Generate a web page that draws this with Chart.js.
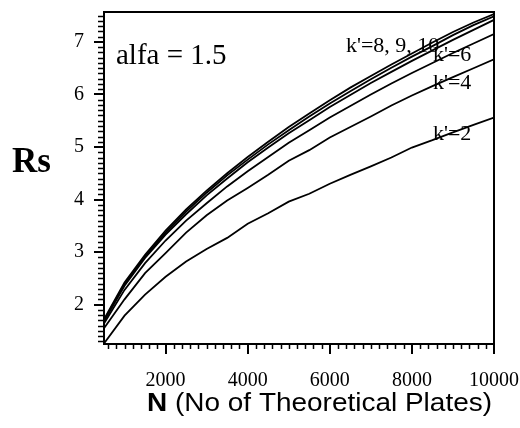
<!DOCTYPE html>
<html>
<head>
<meta charset="utf-8">
<script src="https://cdn.jsdelivr.net/npm/chart.js@4/dist/chart.umd.min.js"></script>
<style>
  html, body { margin: 0; padding: 0; background: #fff; }
  #wrap { width: 520px; height: 428px; }
</style>
</head>
<body>
<div id="wrap"><canvas id="chartCanvas" width="520" height="428"></canvas></div>
<script>
// number of theoretical plates (x) for every sampled point
const nPlates = [500, 1000, 1500, 2000, 2500, 3000, 3500, 4000, 4500, 5000,
                 5500, 6000, 6500, 7000, 7500, 8000, 8500, 9000, 9500, 10000];

// resolution Rs, one array per k'
const rsK2  = [1.26, 1.79, 2.19, 2.53, 2.82, 3.06, 3.27, 3.54, 3.74, 3.96, 4.11, 4.30, 4.47, 4.63, 4.80, 4.99, 5.13, 5.28, 5.42, 5.56];
const rsK4  = [1.55, 2.10, 2.60, 2.98, 3.37, 3.70, 3.98, 4.22, 4.47, 4.74, 4.94, 5.18, 5.38, 5.58, 5.79, 5.98, 6.16, 6.33, 6.50, 6.67];
const rsK6  = [1.64, 2.28, 2.79, 3.22, 3.60, 3.93, 4.25, 4.54, 4.81, 5.08, 5.32, 5.56, 5.78, 6.00, 6.21, 6.41, 6.60, 6.79, 6.97, 7.15];
const rsK8  = [1.68, 2.36, 2.89, 3.33, 3.72, 4.08, 4.40, 4.71, 4.99, 5.26, 5.51, 5.76, 5.99, 6.22, 6.43, 6.64, 6.84, 7.04, 7.23, 7.42];
const rsK9  = [1.70, 2.39, 2.92, 3.37, 3.77, 4.13, 4.46, 4.76, 5.05, 5.32, 5.58, 5.83, 6.06, 6.29, 6.51, 6.72, 6.92, 7.13, 7.32, 7.49];
const rsK10 = [1.72, 2.42, 2.95, 3.41, 3.81, 4.17, 4.50, 4.81, 5.10, 5.38, 5.64, 5.89, 6.13, 6.35, 6.57, 6.78, 6.99, 7.19, 7.37, 7.53];

const seriesNames = ["k'=2", "k'=4", "k'=6", "k'=8", "k'=9", "k'=10"];
const seriesValues = [rsK2, rsK4, rsK6, rsK8, rsK9, rsK10];

const xTickValues = [2000, 4000, 6000, 8000, 10000];
const yTickValues = [2, 3, 4, 5, 6, 7];

const xTitleBold = 'N';
const xTitleRest = ' (No of Theoretical Plates)';
const yTitle = 'Rs';
const alfaText = 'alfa = 1.5';

const SERIF = '"Liberation Serif", "Times New Roman", serif';
const SANS = '"Liberation Sans", Arial, sans-serif';

// minor ticks, frame and all free text
const decorations = {
    id: 'decorations',
    afterDraw(chart) {
        const { ctx, chartArea: a, scales } = chart;
        const x = scales.x, y = scales.y;
        ctx.save();
        ctx.strokeStyle = '#000';

        // top and right frame
        ctx.lineWidth = 2;
        ctx.beginPath();
        ctx.moveTo(a.left, a.top);
        ctx.lineTo(a.right, a.top);
        ctx.lineTo(a.right, a.bottom);
        ctx.stroke();

        // minor ticks
        ctx.lineWidth = 1.5;
        ctx.beginPath();
        for (let v = 600; v < x.max; v += 200) {
            if (v % 2000 === 0) continue;
            const px = Math.round(x.getPixelForValue(v)) + 0.5;
            ctx.moveTo(px, a.bottom);
            ctx.lineTo(px, a.bottom + 5);
        }
        for (let i = 13; i / 10 < y.max; i++) {
            if (i % 10 === 0) continue;
            const py = Math.round(y.getPixelForValue(i / 10)) + 0.5;
            ctx.moveTo(a.left, py);
            ctx.lineTo(a.left - 6, py);
        }
        ctx.stroke();

        ctx.fillStyle = '#000';
        ctx.textBaseline = 'alphabetic';
        ctx.textAlign = 'left';

        // y title, horizontal
        ctx.font = 'bold 35px ' + SERIF;
        ctx.fillText(yTitle, 12, 172);

        // x title, right aligned with the plot
        ctx.font = '25px ' + SANS;
        const restW = ctx.measureText(xTitleRest).width;
        ctx.font = 'bold 25px ' + SANS;
        const boldW = ctx.measureText(xTitleBold).width;
        const total = boldW + restW;
        const sx = 345 / total;
        ctx.save();
        ctx.translate(a.right - 2 - 345, 411);
        ctx.scale(sx, 1);
        ctx.fillText(xTitleBold, 0, 0);
        ctx.font = '25px ' + SANS;
        ctx.fillText(xTitleRest, boldW, 0);
        ctx.restore();

        // alfa text
        ctx.font = '29px ' + SERIF;
        ctx.fillText(alfaText, a.left + 12, 64);

        // curve labels
        ctx.font = '22px ' + SERIF;
        ctx.fillText("k'=8, 9, 10", 346, 52);
        ctx.fillText(seriesNames[2], 433, 61);
        ctx.fillText(seriesNames[1], 433, 89);
        ctx.fillText(seriesNames[0], 433, 140);

        ctx.restore();
    }
};

const ctx = document.getElementById('chartCanvas').getContext('2d');

new Chart(ctx, {
    type: 'line',
    data: {
        datasets: seriesValues.map((vals, i) => ({
            label: seriesNames[i],
            data: nPlates.map((n, j) => ({ x: n, y: vals[j] })),
            borderColor: '#000',
            borderWidth: 1.8,
            pointRadius: 0,
            tension: 0,
            fill: false
        }))
    },
    options: {
        responsive: false,
        animation: false,
        layout: { padding: { left: 0, right: 26, top: 12, bottom: 0 } },
        plugins: {
            legend: { display: false },
            tooltip: { enabled: false }
        },
        scales: {
            x: {
                type: 'linear',
                min: 500,
                max: 10000,
                afterBuildTicks: scale => { scale.ticks = xTickValues.map(v => ({ value: v })); },
                afterFit: scale => {
                    scale.height = 84;
                    scale.paddingLeft = 0;
                    scale.paddingRight = 0;
                },
                grid: { drawOnChartArea: false, drawTicks: true, tickLength: 10, color: '#000', lineWidth: 2 },
                border: { display: true, color: '#000', width: 2 },
                ticks: {
                    color: '#000',
                    padding: 15,
                    maxRotation: 0,
                    font: { family: SERIF, size: 20 },
                    callback: v => String(v)
                }
            },
            y: {
                type: 'linear',
                min: 1.25,
                max: 7.57,
                afterBuildTicks: scale => { scale.ticks = yTickValues.map(v => ({ value: v })); },
                afterFit: scale => {
                    scale.width = 104;
                    scale.paddingTop = 0;
                    scale.paddingBottom = 0;
                },
                grid: { drawOnChartArea: false, drawTicks: true, tickLength: 10, color: '#000', lineWidth: 2 },
                border: { display: true, color: '#000', width: 2 },
                ticks: {
                    color: '#000',
                    padding: 10,
                    font: { family: SERIF, size: 20 },
                    callback: v => String(v)
                }
            }
        }
    },
    plugins: [decorations]
});
</script>
</body>
</html>
